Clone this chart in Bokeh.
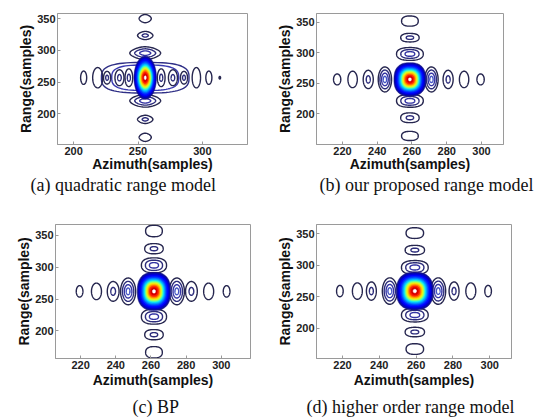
import numpy as np
from bokeh.plotting import figure
from bokeh.models import Range1d, FixedTicker, Title
from bokeh.layouts import column, row
from bokeh.embed import file_html
from bokeh.resources import INLINE

# ---------------- values ----------------
Y_TICKS = [200, 250, 300, 350]
A_X_TICKS = [200, 250, 300]
BCD_X_TICKS = [220, 240, 260, 280, 300]

CAPTIONS = ["(a) quadratic range model", "(b) our proposed range model",
            "(c) BP", "(d) higher order range model"]
X_LABEL = "Azimuth(samples)"
Y_LABEL = "Range(samples)"

# (a) quadratic range model
A_CENTER = [255.6, 257.0]
A_MAIN_SIZE = [17.5, 68.0]
A_AZ_POS = [207.8, 218.7, 226.0, 235.6, 242.9, 268.0, 277.1, 285.7, 295.3, 305.0, 313.5]
A_AZ_W = [4.7, 7.8, 5.5, 7.0, 6.0, 6.0, 7.0, 5.5, 6.5, 4.7, 1.2]
A_AZ_H = [21, 32, 20, 25, 28, 28, 25, 20, 32, 21, 4]
A_AZ_N = [1, 1, 2, 2, 2, 2, 2, 2, 1, 1, 1]
A_RG_POS = [163.3, 191.5, 220.7, 295.7, 323.4, 350.0]
A_RG_W = [9.5, 12, 24, 24, 12, 9.5]
A_RG_H = [13, 13, 20, 20, 13, 13]
A_RG_N = [1, 2, 3, 3, 2, 1]
A_ENV_W = [68, 52]
A_ENV_H = [48, 40]

# (b) our proposed range model
B_CENTER = [258.8, 256.0]
B_MAIN_SIZE = [18.4, 55.0]
B_AZ_POS = [216.9, 225.8, 234.8, 244.4, 271.2, 280.8, 290.0, 299.5]
B_AZ_W = [4.2, 5.4, 5.8, 7.7, 7.7, 5.8, 5.4, 4.2]
B_AZ_H = [18, 27, 30, 41, 41, 30, 27, 18]
B_AZ_N = [1, 1, 2, 4, 4, 2, 1, 1]
B_RG_POS = [163.4, 193.2, 220.9, 297.7, 324.4, 351.6]
B_RG_W = [9.6, 10.6, 15.4, 15.4, 10.6, 9.6]
B_RG_H = [15, 16, 21, 21, 14, 16.7]
B_RG_N = [1, 2, 3, 3, 2, 1]

# (c) BP
C_CENTER = [261.7, 262.0]
C_MAIN_SIZE = [19.0, 60.0]
C_AZ_POS = [219.4, 229.0, 238.5, 247.0, 274.7, 283.0, 292.8, 303.0]
C_AZ_W = [3.8, 5.7, 6.7, 8.6, 8.6, 6.7, 5.7, 3.8]
C_AZ_H = [18, 26, 31, 42, 42, 31, 26, 18]
C_AZ_N = [1, 1, 2, 4, 4, 2, 1, 1]
C_RG_POS = [166.3, 194.0, 222.3, 302.9, 329.0, 356.8]
C_RG_W = [9.5, 10.5, 14.3, 14.3, 10.5, 9.5]
C_RG_H = [18, 16, 23.5, 23.5, 16, 18]
C_RG_N = [1, 2, 3, 3, 2, 1]

# (d) higher order range model
D_CENTER = [259.3, 259.0]
D_MAIN_SIZE = [20.0, 60.0]
D_AZ_POS = [218.6, 228.1, 235.7, 245.7, 272.0, 280.6, 289.7, 299.1]
D_AZ_W = [3.6, 5.4, 5.4, 8.1, 8.1, 5.4, 5.4, 3.6]
D_AZ_H = [18, 26, 29, 42, 42, 29, 26, 18]
D_AZ_N = [1, 1, 2, 4, 4, 2, 1, 1]
D_RG_POS = [167.0, 194.0, 221.0, 296.4, 324.0, 351.0]
D_RG_W = [9.5, 10.5, 14.5, 14.5, 10.5, 9.5]
D_RG_H = [17, 15, 22, 22, 15, 17]
D_RG_N = [1, 2, 3, 3, 2, 1]

# ---------------- styles ----------------
RING_SCALES = {1: [1.0], 2: [1.0, 0.4], 3: [1.0, 0.68, 0.36], 4: [1.0, 0.75, 0.5, 0.25]}
RING_COLORS = ["#26264f", "#2d2d7c", "#3535a4", "#4455c4"]
ENV_COLORS = ["#2f2f86", "#3a3ab0"]
MAIN_FRAC = [1.00, 0.93, 0.85, 0.77, 0.70, 0.64, 0.58, 0.53, 0.48, 0.43, 0.38, 0.33, 0.27, 0.19, 0.09]
MAIN_COLORS = ["#12128a", "#0000c8", "#0000ff", "#0030ff", "#0070ff", "#00b0ff", "#10e8f0",
               "#60ffa0", "#b0ff50", "#f0f010", "#ffc000", "#ff7800", "#ff2000", "#d40000", "#ffffff"]
FRAME_GRAY = "#9a9a9a"


def blob(cx, cy, w, h, n, m=72):
    t = np.linspace(0, 2 * np.pi, m)
    c, s = np.cos(t), np.sin(t)
    x = cx + w / 2 * np.sign(c) * np.abs(c) ** (2.0 / n)
    y = cy + h / 2 * np.sign(s) * np.abs(s) ** (2.0 / n)
    return list(x), list(y)


def panel(xr, yr, xticks, borders, center, main_size, main_exp,
          az, rg, rg_exp, caption, cap_offset, xlab_standoff, cap_valign, cap_standoff, env=None):
    bl, br, bt, bb = borders
    p = figure(width=271, height=210, x_range=Range1d(*xr), y_range=Range1d(*yr),
               output_backend="svg", toolbar_location=None,
               min_border_left=bl, min_border_right=br, min_border_top=bt, min_border_bottom=bb)
    p.grid.visible = False
    p.outline_line_color = FRAME_GRAY
    p.xaxis.ticker = FixedTicker(ticks=xticks)
    p.yaxis.ticker = FixedTicker(ticks=Y_TICKS)
    p.xaxis.axis_label = X_LABEL
    p.yaxis.axis_label = Y_LABEL
    for ax in (p.xaxis[0], p.yaxis[0]):
        ax.major_tick_in = 3
        ax.major_tick_out = 0
        ax.minor_tick_line_color = None
        ax.axis_line_color = FRAME_GRAY
        ax.major_tick_line_color = FRAME_GRAY
        ax.major_label_text_font = "Liberation Sans"
        ax.major_label_text_font_style = "bold"
        ax.major_label_text_font_size = "11px"
        ax.major_label_text_color = "#222222"
        ax.major_label_standoff = 2
        ax.axis_label_text_font = "Liberation Sans"
        ax.axis_label_text_font_style = "bold"
        ax.axis_label_text_font_size = "14px"
        ax.axis_label_text_color = "#111111"
        ax.axis_label_standoff = 0
    p.xaxis[0].axis_label_standoff = xlab_standoff

    cx, cy = center
    xs, ys, cols = [], [], []
    if env is not None:
        for k, (w, h) in enumerate(zip(*env)):
            x, y = blob(cx, cy, w, h, 3.0)
            xs.append(x); ys.append(y); cols.append(ENV_COLORS[k])
    az_pos, az_w, az_h, az_n = az
    for x0, w, h, n in zip(az_pos, az_w, az_h, az_n):
        for k, s in enumerate(RING_SCALES[n]):
            x, y = blob(x0, cy, w * s, h * s, 2.0)
            xs.append(x); ys.append(y); cols.append(RING_COLORS[k])
    rg_pos, rg_w, rg_h, rg_n = rg
    for y0, w, h, n in zip(rg_pos, rg_w, rg_h, rg_n):
        for k, s in enumerate(RING_SCALES[n]):
            x, y = blob(cx, y0, w * s, h * s, rg_exp)
            xs.append(x); ys.append(y); cols.append(RING_COLORS[k])
    p.patches(xs, ys, fill_color=None, line_color=cols, line_width=1.4)

    mxs, mys = [], []
    for f in MAIN_FRAC:
        x, y = blob(cx, cy, main_size[0] * f, main_size[1] * f, main_exp)
        mxs.append(x); mys.append(y)
    p.patches(mxs, mys, fill_color=MAIN_COLORS, line_color=MAIN_COLORS, line_width=0.5)

    p.add_layout(Title(text=caption, align="left", offset=cap_offset,
                       vertical_align=cap_valign, standoff=cap_standoff,
                       text_font="Liberation Serif", text_font_size="18px",
                       text_font_style="normal", text_color="#111111"), "below")
    return p


pa = panel((187.5, 335.0), (152.0, 358.0), A_X_TICKS, (57, 24, 13, 65),
           A_CENTER, A_MAIN_SIZE, 2.0,
           (A_AZ_POS, A_AZ_W, A_AZ_H, A_AZ_N), (A_RG_POS, A_RG_W, A_RG_H, A_RG_N), 1.7,
           CAPTIONS[0], -27, -2, "top", 0, env=(A_ENV_W, A_ENV_H))
pb = panel((205.0, 312.7), (149.4, 364.0), BCD_X_TICKS, (45, 39, 8, 66),
           B_CENTER, B_MAIN_SIZE, 2.5,
           (B_AZ_POS, B_AZ_W, B_AZ_H, B_AZ_N), (B_RG_POS, B_RG_W, B_RG_H, B_RG_N), 2.4,
           CAPTIONS[1], 3, -2, "top", 0)
pc = panel((205.7, 316.6), (156.6, 367.0), BCD_X_TICKS, (55, 21, 14, 62),
           C_CENTER, C_MAIN_SIZE, 2.5,
           (C_AZ_POS, C_AZ_W, C_AZ_H, C_AZ_N), (C_RG_POS, C_RG_W, C_RG_H, C_RG_N), 2.4,
           CAPTIONS[2], 77, 0, "bottom", 8)
pd = panel((205.9, 311.8), (152.0, 364.6), BCD_X_TICKS, (45, 31, 14, 60),
           D_CENTER, D_MAIN_SIZE, 2.5,
           (D_AZ_POS, D_AZ_W, D_AZ_H, D_AZ_N), (D_RG_POS, D_RG_W, D_RG_H, D_RG_N), 2.4,
           CAPTIONS[3], -10, 0, "bottom", 8)

layout = column(row(pa, pb), row(pc, pd))
open("out.html", "w").write(file_html(layout, INLINE))
